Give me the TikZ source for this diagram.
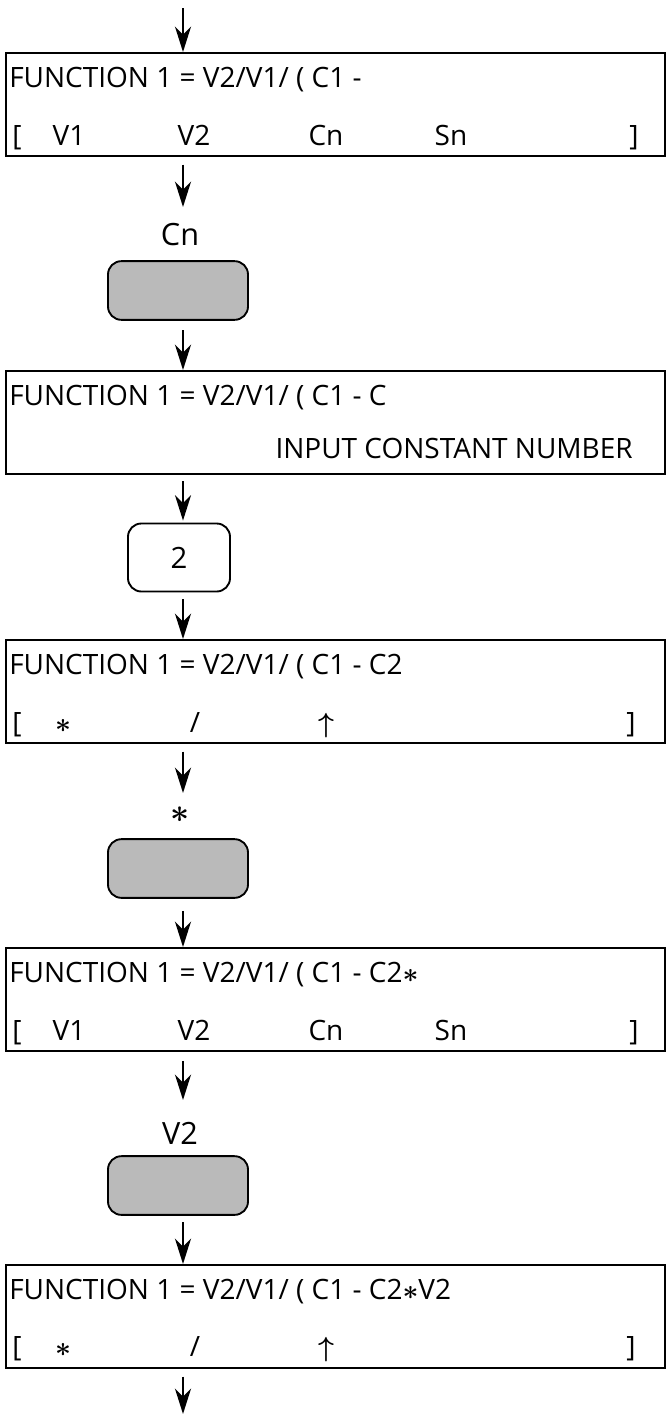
\documentclass[tikz,border=0pt]{standalone}
\usepackage{amsmath}
\usepackage{fontspec}
\setmainfont{Open Sans}
\usetikzlibrary{arrows.meta}
\newcommand{\mystar}{$\boldsymbol{\ast}$}
\newcommand{\myup}{$\boldsymbol{\uparrow}$}
\begin{document}
\begin{tikzpicture}[x=0.75pt,y=-0.75pt,
  screen/.style={draw, line width=1.2pt, minimum width=494.25pt, minimum height=77.25pt, anchor=north west, inner sep=0pt},
  keybox/.style={draw, line width=1.4pt, rounded corners=10pt, fill=black!27, minimum width=105pt, minimum height=44pt, inner sep=0pt},
  numkey/.style={draw, line width=1.4pt, rounded corners=10pt, minimum width=76.5pt, minimum height=51pt, inner sep=0pt, font=\fontsize{22}{24}\selectfont},
  txt/.style={font=\fontsize{21}{23}\selectfont, inner sep=0pt, anchor=base west},
  tok/.style={font=\fontsize{21}{23}\selectfont, inner sep=0pt, anchor=base},
  lbl/.style={font=\fontsize{23}{25}\selectfont, inner sep=0pt},
  arr/.style={line width=1.9pt, -{Stealth[length=19pt,width=12pt,inset=6pt]}}]
\useasboundingbox (0,0) rectangle (665,1414);
\coordinate (ax) at (183,0);

% ---- box 1
\node[screen] (b1) at (5,52) {};
\node[txt] (b1a) at (9,87) {FUNCTION 1 = V2/V1/ ( C1 -};
\node[tok] (b1o) at (17,145) {[};
\node[tok] (b1v1) at (69,145) {V1};
\node[tok] (b1v2) at (194,145) {V2};
\node[tok] (b1cn) at (326,145) {Cn};
\node[tok] (b1sn) at (451,145) {Sn};
\node[tok] (b1c) at (634,145) {]};

% ---- key Cn
\node[lbl] (lcn) at (180,235) {Cn};
\node[keybox] (k1) at (178,290.5) {};

% ---- box 2
\node[screen] (b2) at (5,370) {};
\node[txt] (b2a) at (9,405) {FUNCTION 1 = V2/V1/ ( C1 - C};
\node[tok, anchor=base east] (b2b) at (633,458) {INPUT CONSTANT NUMBER};

% ---- key 2
\node[numkey] (k2) at (179,557.5) {2};

% ---- box 3
\node[screen] (b3) at (5,639) {};
\node[txt] (b3a) at (9,674) {FUNCTION 1 = V2/V1/ ( C1 - C2};
\node[tok] (b3o) at (17,732) {[};
\node[tok] (b3m) at (63,732) {\mystar};
\node[tok] (b3d) at (195,732) {/};
\node[tok] (b3p) at (326,732) {\myup};
\node[tok] (b3c) at (631,732) {]};

% ---- key *
\node[lbl] (lst) at (180,815) {\mystar};
\node[keybox] (k3) at (178,868.5) {};

% ---- box 4
\node[screen] (b4) at (5,947) {};
\node[txt] (b4a) at (9,982) {FUNCTION 1 = V2/V1/ ( C1 - C2\mystar};
\node[tok] (b4o) at (17,1040) {[};
\node[tok] (b4v1) at (69,1040) {V1};
\node[tok] (b4v2) at (194,1040) {V2};
\node[tok] (b4cn) at (326,1040) {Cn};
\node[tok] (b4sn) at (451,1040) {Sn};
\node[tok] (b4c) at (634,1040) {]};

% ---- key V2
\node[lbl] (lv2) at (180,1133) {V2};
\node[keybox] (k4) at (178,1185.5) {};

% ---- box 5
\node[screen] (b5) at (5,1264) {};
\node[txt] (b5a) at (9,1299) {FUNCTION 1 = V2/V1/ ( C1 - C2\mystar V2};
\node[tok] (b5o) at (17,1356) {[};
\node[tok] (b5m) at (63,1356) {\mystar};
\node[tok] (b5d) at (195,1356) {/};
\node[tok] (b5p) at (326,1356) {\myup};
\node[tok] (b5c) at (631,1356) {]};

% ---- free ends
\coordinate (top) at (183,8);
\coordinate (e1) at (183,207);
\coordinate (e5) at (183,793);
\coordinate (e7) at (183,1100);
\coordinate (bot) at (183,1414);

% ---- arrows
\draw[arr] (top) -- (b1.north -| ax);
\draw[arr, shorten <=6pt] (b1.south -| ax) -- (e1);
\draw[arr, shorten <=7pt] (k1.south -| ax) -- (b2.north -| ax);
\draw[arr, shorten <=5pt, shorten >=1.5pt] (b2.south -| ax) -- (k2.north -| ax);
\draw[arr, shorten <=5pt] (k2.south -| ax) -- (b3.north -| ax);
\draw[arr, shorten <=6pt] (b3.south -| ax) -- (e5);
\draw[arr, shorten <=9pt] (k3.south -| ax) -- (b4.north -| ax);
\draw[arr, shorten <=7pt] (b4.south -| ax) -- (e7);
\draw[arr, shorten <=5pt] (k4.south -| ax) -- (b5.north -| ax);
\draw[arr, shorten <=6pt] (b5.south -| ax) -- (bot);
\end{tikzpicture}
\end{document}
